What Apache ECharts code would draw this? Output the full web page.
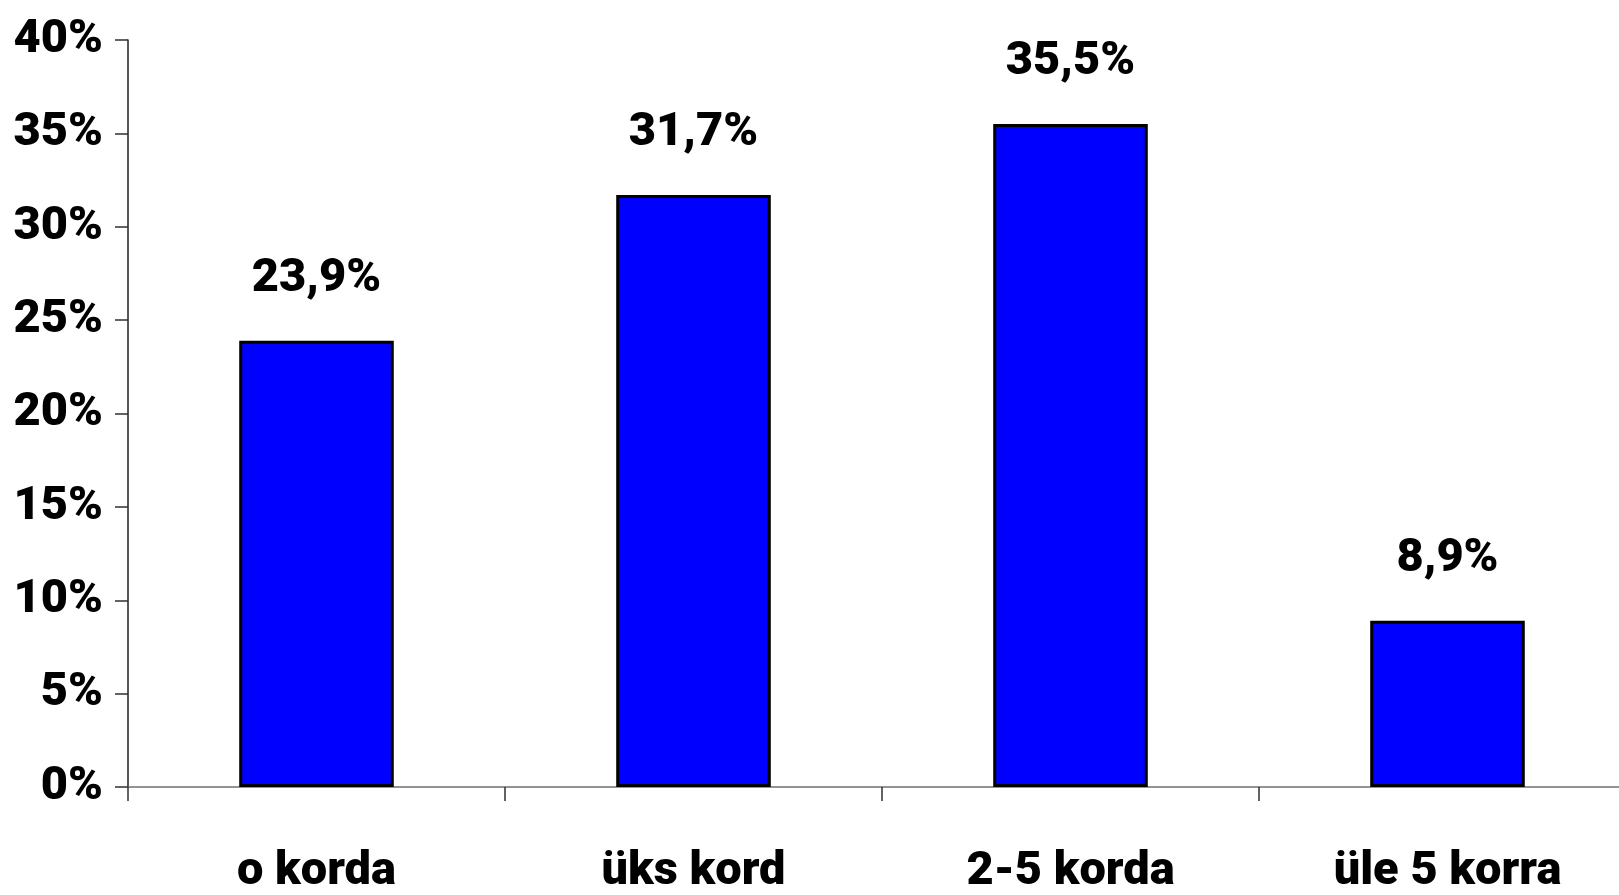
<!DOCTYPE html>
<html><head><meta charset="utf-8">
<script src="https://cdn.jsdelivr.net/npm/echarts@6/dist/echarts.min.js"></script>
<style>html,body{margin:0;padding:0;background:#fff}#c{width:1619px;height:895px}</style>
</head><body><div id="c"></div>
<script>
const categories = ['o korda', 'üks kord', '2-5 korda', 'üle 5 korra'];
const values = [23.9, 31.7, 35.5, 8.9];
const yTicks = [0, 5, 10, 15, 20, 25, 30, 35, 40];

const FONT = 'Roboto, "Liberation Sans", sans-serif';
const chart = echarts.init(document.getElementById('c'));
chart.setOption({
  animation: false,
  backgroundColor: '#fff',
  grid: { left: 128, top: 40, bottom: 108, width: 1508, containLabel: false, outerBoundsMode: 'none' },
  xAxis: {
    type: 'category', data: categories,
    axisLine: { lineStyle: { color: '#707070', width: 1.5 } },
    axisTick: { show: true, length: 14, lineStyle: { color: '#303030', width: 1.5 } },
    axisLabel: { margin: 62, color: '#000', fontFamily: FONT, fontWeight: 900, fontSize: 47, verticalAlign: 'top', lineHeight: 47 }
  },
  yAxis: {
    type: 'value', min: yTicks[0], max: yTicks[yTicks.length - 1], interval: 5,
    splitLine: { show: false },
    axisLine: { show: true, lineStyle: { color: '#202020', width: 1.5 } },
    axisTick: { show: true, length: 13, lineStyle: { color: '#303030', width: 1.5 } },
    axisLabel: { margin: 25, color: '#000', fontFamily: FONT, fontWeight: 900, fontSize: 47, formatter: '{value}%' }
  },
  series: [{
    type: 'bar', data: values, barWidth: '41%',
    itemStyle: { color: '#0000FF', borderColor: '#000', borderWidth: 3 },
    label: {
      show: true, position: 'top', distance: 38, color: '#000',
      fontFamily: FONT, fontWeight: 900, fontSize: 47,
      formatter: p => String(p.value).replace('.', ',') + '%'
    }
  }]
});
</script></body></html>
